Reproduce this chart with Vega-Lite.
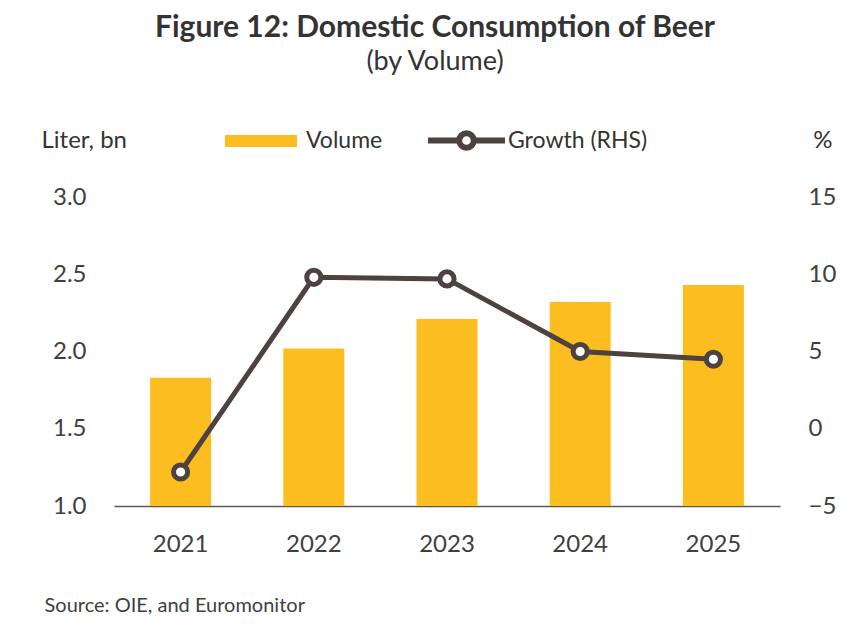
{
  "$schema": "https://vega.github.io/schema/vega-lite/v6.json",
  "width": 666,
  "height": 309,
  "autosize": "none",
  "padding": {"left": 114, "top": 197, "right": 75, "bottom": 130},
  "background": "white",
  "title": {
    "text": "Figure 12: Domestic Consumption of Beer",
    "subtitle": "(by Volume)",
    "anchor": "middle",
    "frame": "group",
    "dx": -12,
    "offset": 24,
    "font": "Lato",
    "fontSize": 30,
    "fontWeight": "bold",
    "color": "#333333",
    "subtitleFont": "Lato",
    "subtitleFontSize": 27,
    "subtitleColor": "#333333",
    "subtitlePadding": 6
  },
  "config": {"view": {"stroke": null}, "font": "Lato"},
  "data": {
    "values": [
      {"year": "2021", "volume": 1.83, "growth": -2.8},
      {"year": "2022", "volume": 2.02, "growth": 9.8},
      {"year": "2023", "volume": 2.21, "growth": 9.7},
      {"year": "2024", "volume": 2.32, "growth": 5.0},
      {"year": "2025", "volume": 2.43, "growth": 4.5}
    ]
  },
  "encoding": {
    "x": {
      "field": "year",
      "type": "ordinal",
      "scale": {"paddingInner": 0.542, "paddingOuter": 0.271},
      "axis": {
        "labelAngle": 0,
        "labelFontSize": 24,
        "labelColor": "#404040",
        "labelPadding": 26,
        "ticks": false,
        "domain": true,
        "domainColor": "#595959",
        "domainWidth": 1.5,
        "grid": false,
        "title": "Source: OIE, and Euromonitor",
        "titleFontSize": 20,
        "titleFontWeight": "normal",
        "titleColor": "#404040",
        "titleAlign": "left",
        "titleBaseline": "alphabetic",
        "titleX": -70,
        "titleY": 105
      }
    }
  },
  "layer": [
    {
      "mark": {"type": "bar"},
      "encoding": {
        "y": {
          "field": "volume",
          "type": "quantitative",
          "scale": {"domain": [1, 3], "nice": false, "zero": false},
          "axis": {
            "values": [1, 1.5, 2, 2.5, 3],
            "format": ".1f",
            "domain": false,
            "ticks": false,
            "grid": false,
            "labelFontSize": 24,
            "labelColor": "#404040",
            "labelPadding": 28,
            "title": "Liter, bn",
            "titleAngle": 0,
            "titleX": -73,
            "titleY": -57,
            "titleAlign": "left",
            "titleBaseline": "middle",
            "titleFontSize": 24,
            "titleFontWeight": "normal",
            "titleColor": "#333333"
          }
        },
        "y2": {"datum": 1},
        "color": {
          "datum": "Volume",
          "scale": {"range": ["#FCBD20"]},
          "legend": {
            "title": null,
            "orient": "none",
            "legendX": 111,
            "legendY": -92,
            "symbolType": "M-1,-0.17H1V0.17H-1Z",
            "symbolSize": 5184,
            "symbolStrokeWidth": 0,
            "labelFontSize": 23,
            "labelColor": "#333333",
            "labelOffset": 9
          }
        }
      }
    },
    {
      "encoding": {
        "y": {
          "field": "growth",
          "type": "quantitative",
          "scale": {"domain": [-5, 15], "nice": false, "zero": false},
          "axis": {
            "orient": "right",
            "values": [-5, 0, 5, 10, 15],
            "domain": false,
            "ticks": false,
            "grid": false,
            "labelFontSize": 24,
            "labelColor": "#404040",
            "labelPadding": 28,
            "title": "%",
            "titleAngle": 0,
            "titleX": 52,
            "titleY": -57,
            "titleAlign": "right",
            "titleBaseline": "middle",
            "titleFontSize": 24,
            "titleFontWeight": "normal",
            "titleColor": "#333333"
          }
        }
      },
      "layer": [
        {
          "mark": {"type": "line", "strokeWidth": 5},
          "encoding": {
            "stroke": {
              "datum": "Growth (RHS)",
              "scale": {"range": ["#4E4241"]},
              "legend": {
                "title": null,
                "orient": "none",
                "legendX": 311,
                "legendY": -98,
                "symbolType": "M-1,0H-0.19M0.19,0H1M0.19,0A0.19,0.19 0 1 1 -0.19,0A0.19,0.19 0 1 1 0.19,0Z",
                "symbolSize": 5929,
                "symbolStrokeWidth": 6,
                "symbolFillColor": "white",
                "labelFontSize": 23,
                "labelColor": "#333333",
                "labelOffset": 0
              }
            }
          }
        },
        {
          "mark": {"type": "point", "shape": "circle", "filled": true, "fill": "white", "stroke": "#4E4241", "strokeWidth": 5, "size": 200, "opacity": 1}
        }
      ]
    }
  ],
  "resolve": {"scale": {"y": "independent"}}
}
